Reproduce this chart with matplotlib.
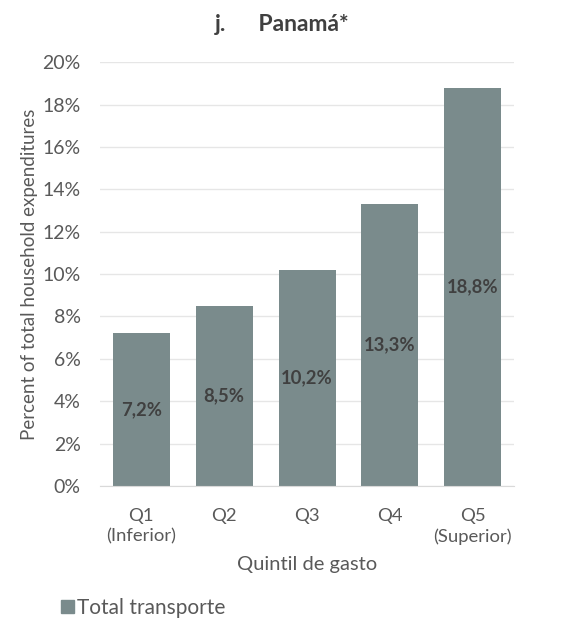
import matplotlib.pyplot as plt
import numpy as np
from matplotlib.patches import Patch

# Gasto en transporte por quintil
categorias = ['Q1\n(Inferior)', 'Q2', 'Q3', 'Q4', 'Q5\n(Superior)']
valores = [7.2, 8.5, 10.2, 13.3, 18.8]
etiquetas = ['7,2%', '8,5%', '10,2%', '13,3%', '18,8%']

plt.rcParams['font.family'] = ['Lato', 'DejaVu Sans']
color_barra = '#7A8B8C'
gris = '#595959'

fig = plt.figure(figsize=(5.65, 6.23), dpi=100)
ax = fig.add_axes([0.177, 0.220, 0.733, 0.680])

x = np.arange(len(categorias))
bars = ax.bar(x, valores, width=0.69, color=color_barra, zorder=2)

for b, v, t in zip(bars, valores, etiquetas):
    ax.text(b.get_x() + b.get_width() / 2, v / 2, t, ha='center', va='center',
            fontsize=13.3, fontweight='bold', color='#404040', zorder=3)

ax.set_xlim(-0.5, len(categorias) - 0.5)
ax.set_ylim(0, 20)
ax.set_yticks(np.arange(0, 21, 2))
ax.set_yticklabels([f'{t}%' for t in range(0, 21, 2)])
ax.set_xticks(x)
ax.set_xticklabels(categorias, linespacing=1.3)
ax.tick_params(axis='y', length=0, labelsize=14, colors=gris, pad=14)
ax.tick_params(axis='x', length=0, labelsize=13.3, colors=gris, pad=16)
ax.grid(axis='y', color='#E6E6E6', linewidth=1, zorder=0)

for s in ['top', 'right', 'left']:
    ax.spines[s].set_visible(False)
ax.spines['bottom'].set_color('#D9D9D9')

ax.set_ylabel('Percent of total household expenditures', fontsize=13.5, color=gris, labelpad=3)
ax.set_xlabel('Quintil de gasto', fontsize=14.5, color=gris, labelpad=8)

fig.text(0.5, 0.96, 'j.      Panamá*', ha='center', va='center',
         fontsize=16.5, fontweight='bold', color='#404040')

fig.legend(handles=[Patch(color=color_barra, label='Total transporte')],
           loc='center left', bbox_to_anchor=(0.075, 0.024), frameon=False,
           fontsize=15, labelcolor=gris, handlelength=0.6, handleheight=0.6,
           handletextpad=0.15)

fig.savefig('out.png', dpi=100)
